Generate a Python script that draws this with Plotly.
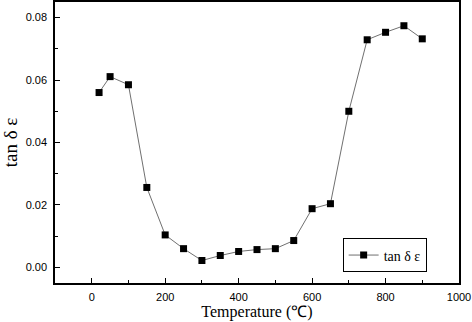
import plotly.graph_objects as go

temperature = [20, 50, 100, 150, 200, 250, 300, 350, 400, 450, 500, 550, 600, 650, 700, 750, 800, 850, 900]
tan_delta = [0.0560, 0.0611, 0.0585, 0.0256, 0.0104, 0.0060, 0.0022, 0.0038, 0.0051, 0.0057, 0.0060,
             0.0086, 0.0188, 0.0204, 0.0500, 0.0729, 0.0753, 0.0774, 0.0732]
series_name = "tan δ ε"
x_title = "Temperature (℃)"
y_title = "tan δ ε"

fig = go.Figure()
fig.add_trace(go.Scatter(
    x=temperature, y=tan_delta, mode="lines+markers", name=series_name,
    line=dict(color="#707070", width=1),
    marker=dict(symbol="square", size=7, color="black"),
    showlegend=True,
))

axis_common = dict(
    showline=True, linecolor="black", linewidth=1.5, mirror=True,
    ticks="inside", ticklen=5, tickwidth=1, tickcolor="black",
    showgrid=False, zeroline=False, automargin=False,
    tickfont=dict(family="Liberation Sans, Arial, sans-serif", size=11, color="black"),
)

fig.update_xaxes(
    range=[-100, 1000], tick0=0, dtick=200,
    minor=dict(ticks="inside", ticklen=3, dtick=100, tick0=0, tickcolor="black"),
    title=dict(text=x_title, font=dict(family="Liberation Serif, serif", size=16, color="black"), standoff=2),
    ticklabelstandoff=3,
    **axis_common,
)
fig.update_yaxes(
    range=[-0.005, 0.085], tick0=0, dtick=0.02, tickformat=".2f",
    minor=dict(ticks="inside", ticklen=3, dtick=0.01, tick0=0, tickcolor="black"),
    title=dict(text=y_title, font=dict(family="Liberation Serif, serif", size=19, color="black"), standoff=6),
    ticklabelstandoff=4,
    **axis_common,
)

fig.update_layout(
    template=None,
    width=472, height=322,
    margin=dict(l=55, r=13, t=2, b=39),
    plot_bgcolor="white", paper_bgcolor="white",
    legend=dict(
        x=0.712, y=0.098, xanchor="left", yanchor="middle",
        bordercolor="black", borderwidth=1, bgcolor="white",
        font=dict(family="Liberation Serif, serif", size=14, color="black"),
        itemwidth=30, tracegroupgap=0,
    ),
)

fig.write_html(
    "out.html",
    config={"displayModeBar": False},
    post_script="document.body.style.margin='0';document.body.style.overflow='hidden';",
)
